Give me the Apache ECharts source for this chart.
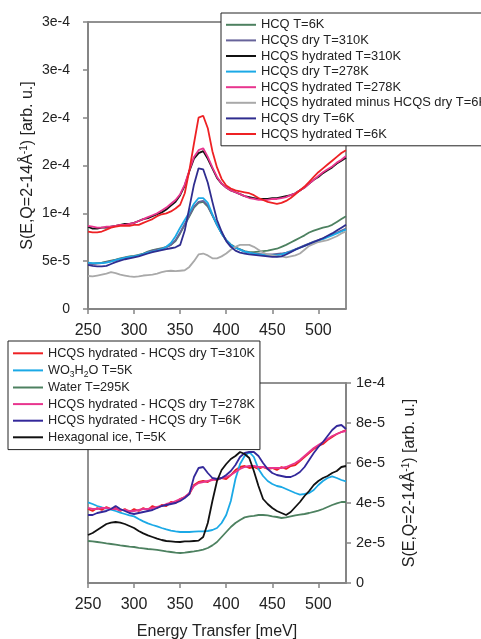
<!DOCTYPE html>
<html>
<head>
<meta charset="utf-8">
<script src="https://cdn.jsdelivr.net/npm/echarts@6/dist/echarts.min.js"></script>
<style>
  html, body { margin: 0; padding: 0; background: #ffffff; }
  #chart { width: 481px; height: 639px; }
</style>
</head>
<body>
<div id="chart"></div>
<script>
// Energy transfer grid [meV], shared by every curve
const energy = [
  250,255,260,265,270,275,280,285,290,295,
  300,305,310,315,320,325,330,335,340,345,
  350,355,360,365,370,375,380,385,390,395,
  400,405,410,415,420,425,430,435,440,445,
  450,455,460,465,470,475,480,485,490,495,
  500,505,510,515,520,525,530
];

// Upper panel: S(E) in units of 1e-5 arb. u.
const hcq6K = [
  4.8,4.75,4.8,4.85,4.95,5.05,5.15,5.3,5.4,5.5,
  5.55,5.65,5.8,6.0,6.15,6.25,6.35,6.5,6.7,7.1,
  7.9,8.8,9.7,10.6,11.1,11.2,10.7,9.8,8.8,7.9,
  7.2,6.75,6.45,6.25,6.05,5.95,5.95,6.0,6.05,6.1,
  6.2,6.3,6.5,6.7,6.95,7.2,7.45,7.7,8.0,8.2,
  8.35,8.5,8.6,8.8,9.1,9.4,9.7
];
const hcqsDry310K = [
  4.75,4.7,4.75,4.8,4.9,5.0,5.1,5.25,5.35,5.45,
  5.5,5.6,5.75,5.95,6.1,6.2,6.3,6.45,6.7,7.2,
  8.0,8.9,9.8,10.7,11.2,11.3,10.8,9.8,8.8,7.9,
  7.2,6.7,6.4,6.2,6.0,5.9,5.8,5.75,5.7,5.7,
  5.7,5.75,5.8,5.9,6.05,6.25,6.45,6.65,6.85,7.05,
  7.2,7.4,7.6,7.8,8.0,8.2,8.4
];
const hcqsHyd310K = [
  8.6,8.4,8.4,8.5,8.5,8.6,8.7,8.8,8.9,8.9,
  9.0,9.2,9.4,9.5,9.7,9.9,10.1,10.4,10.8,11.2,
  11.9,12.9,14.4,15.7,16.3,16.5,15.7,14.7,13.7,13.1,
  12.7,12.4,12.2,12.0,11.8,11.7,11.6,11.5,11.5,11.5,
  11.6,11.6,11.7,11.8,11.9,12.1,12.4,12.7,13.1,13.5,
  13.8,14.2,14.5,14.8,15.2,15.5,15.8
];
const hcqsDry278K = [
  4.85,4.8,4.8,4.8,4.85,4.95,5.1,5.25,5.35,5.45,
  5.5,5.6,5.75,5.9,6.0,6.1,6.25,6.5,6.9,7.6,
  8.5,9.3,10.1,11.0,11.6,11.6,11.1,9.9,8.8,7.9,
  7.2,6.7,6.4,6.2,6.0,5.9,5.8,5.7,5.65,5.6,
  5.6,5.6,5.7,5.85,6.0,6.2,6.4,6.6,6.8,7.0,
  7.15,7.3,7.5,7.7,7.9,8.1,8.3
];
const hcqsHyd278K = [
  8.7,8.6,8.5,8.5,8.6,8.6,8.7,8.8,8.8,8.9,
  9.0,9.2,9.4,9.6,9.8,10.0,10.3,10.6,11.0,11.4,
  12.0,13.0,14.5,15.9,16.6,16.8,15.9,14.8,13.8,13.1,
  12.7,12.4,12.2,12.0,11.8,11.6,11.5,11.4,11.4,11.4,
  11.5,11.5,11.6,11.7,11.9,12.1,12.4,12.7,13.1,13.5,
  13.9,14.3,14.6,14.9,15.3,15.6,16.0
];
const hydMinusDry6K = [
  3.45,3.4,3.5,3.6,3.7,3.85,3.75,3.6,3.5,3.4,
  3.35,3.4,3.5,3.55,3.6,3.7,3.85,3.95,4.0,3.95,
  4.0,4.05,4.4,5.0,5.7,5.8,5.6,5.3,5.3,5.5,
  5.8,6.2,6.5,6.7,6.7,6.7,6.5,6.2,5.9,5.7,
  5.6,5.5,5.5,5.4,5.5,5.6,5.8,6.2,6.6,6.8,
  7.0,7.1,7.2,7.4,7.6,7.9,8.1
];
const hcqsDry6K = [
  4.6,4.5,4.45,4.45,4.5,4.7,4.9,5.05,5.2,5.3,
  5.4,5.5,5.65,5.8,5.95,6.05,6.15,6.25,6.35,6.45,
  6.7,8.2,10.6,13.0,14.7,14.6,13.2,11.2,9.3,8.1,
  7.1,6.5,6.1,5.9,5.8,5.7,5.65,5.6,5.55,5.5,
  5.45,5.45,5.5,5.7,5.95,6.2,6.4,6.6,6.8,7.0,
  7.2,7.4,7.65,7.9,8.2,8.5,8.8
];
const hcqsHyd6K = [
  8.1,8.0,8.0,8.1,8.3,8.5,8.6,8.7,8.7,8.7,
  8.8,8.8,9.0,9.2,9.4,9.7,9.9,10.0,10.2,10.5,
  10.9,12.1,14.5,17.3,20.0,20.2,18.9,16.5,14.8,13.6,
  12.9,12.6,12.4,12.3,12.2,12.1,11.9,11.6,11.4,11.2,
  11.1,11.0,11.1,11.3,11.6,12.0,12.4,12.8,13.3,13.8,
  14.3,14.7,15.1,15.5,15.9,16.3,16.6
];

// Lower panel: S(E) in units of 1e-5 arb. u.
const diff310K = [
  3.7,3.6,3.75,3.65,3.8,3.7,3.75,3.6,3.7,3.55,
  3.7,3.6,3.75,3.65,3.85,3.75,3.9,3.85,4.05,4.0,
  4.2,4.3,4.45,4.9,5.05,5.1,5.05,5.2,5.15,5.25,
  5.2,5.4,5.65,5.8,5.85,5.75,5.8,5.7,5.8,5.7,
  5.75,5.65,5.8,5.7,5.85,5.9,6.1,6.3,6.5,6.7,
  6.85,6.95,7.15,7.3,7.45,7.55,7.65
];
const wo3h2o5K = [
  4.03,3.95,3.85,3.78,3.72,3.67,3.6,3.52,3.45,3.38,
  3.33,3.2,3.08,2.98,2.9,2.83,2.75,2.68,2.62,2.58,
  2.55,2.55,2.55,2.57,2.58,2.58,2.6,2.65,2.75,3.0,
  3.4,4.1,5.2,5.95,6.35,6.55,6.3,5.7,5.35,5.1,
  4.95,4.85,4.8,4.7,4.6,4.5,4.42,4.45,4.5,4.65,
  4.9,5.1,5.25,5.33,5.25,5.15,5.08
];
const water295K = [
  2.1,2.08,2.05,2.02,1.98,1.95,1.92,1.88,1.85,1.82,
  1.8,1.76,1.73,1.7,1.68,1.66,1.62,1.58,1.55,1.52,
  1.5,1.52,1.55,1.58,1.62,1.67,1.75,1.88,2.05,2.3,
  2.55,2.8,3.0,3.15,3.28,3.33,3.36,3.4,3.4,3.38,
  3.33,3.3,3.25,3.28,3.33,3.38,3.42,3.45,3.5,3.56,
  3.62,3.7,3.8,3.9,3.98,4.05,4.05
];
const diff278K = [
  3.75,3.7,3.7,3.75,3.75,3.7,3.7,3.65,3.65,3.6,
  3.6,3.65,3.7,3.7,3.75,3.8,3.85,3.95,4.0,4.1,
  4.2,4.3,4.5,4.85,5.0,5.05,5.1,5.15,5.2,5.25,
  5.3,5.4,5.55,5.7,5.8,5.85,5.85,5.8,5.8,5.75,
  5.75,5.75,5.75,5.8,5.9,6.0,6.15,6.35,6.55,6.75,
  6.9,7.05,7.2,7.35,7.45,7.55,7.6
];
const diff6K = [
  3.4,3.4,3.5,3.55,3.6,3.7,3.85,3.7,3.6,3.5,
  3.45,3.5,3.55,3.6,3.65,3.75,3.85,3.9,3.95,4.0,
  4.1,4.25,4.45,5.3,5.75,5.8,5.5,5.25,5.2,5.25,
  5.4,5.6,5.9,6.3,6.5,6.55,6.55,6.35,6.0,5.7,
  5.5,5.4,5.35,5.3,5.3,5.4,5.55,5.8,6.15,6.5,
  6.8,7.05,7.35,7.65,7.85,7.9,7.7
];
const hexIce5K = [
  2.4,2.5,2.65,2.8,2.95,3.02,3.05,3.02,2.95,2.85,
  2.75,2.6,2.48,2.38,2.3,2.22,2.15,2.1,2.08,2.06,
  2.05,2.08,2.08,2.1,2.12,2.3,3.0,4.1,5.1,5.65,
  5.95,6.2,6.35,6.55,6.45,6.25,5.6,4.85,4.2,3.95,
  3.75,3.6,3.5,3.4,3.55,3.8,4.05,4.35,4.6,4.9,
  5.1,5.25,5.35,5.5,5.6,5.8,5.85
];

// Tick labels as printed on the two intensity axes
const topTickLabels = ['0', '5e-5', '1e-4', '2e-4', '2e-4', '3e-4', '3e-4'];
const bottomTickLabels = ['0', '2e-5', '4e-5', '6e-5', '8e-5', '1e-4'];

const topCurves = [
  ['HCQ T=6K', hcq6K, '#4d8160'],
  ['HCQS dry T=310K', hcqsDry310K, '#67639a'],
  ['HCQS hydrated T=310K', hcqsHyd310K, '#111111'],
  ['HCQS dry T=278K', hcqsDry278K, '#1ba9e6'],
  ['HCQS hydrated T=278K', hcqsHyd278K, '#e8358e'],
  ['HCQS hydrated minus HCQS dry T=6K', hydMinusDry6K, '#a9a9a9'],
  ['HCQS dry T=6K', hcqsDry6K, '#2f2d8f'],
  ['HCQS hydrated T=6K', hcqsHyd6K, '#ee2124']
];
const bottomCurves = [
  ['HCQS hydrated - HCQS dry T=310K', diff310K, '#ee2124'],
  ['WO3H2O T=5K', wo3h2o5K, '#1ba9e6'],
  ['Water T=295K', water295K, '#4d8160'],
  ['HCQS hydrated - HCQS dry T=278K', diff278K, '#e8358e'],
  ['HCQS hydrated - HCQS dry T=6K', diff6K, '#33289a'],
  ['Hexagonal ice, T=5K', hexIce5K, '#111111']
];

const FONT = '"Liberation Sans", Arial, sans-serif';
const AXIS_GREY = '#858585';
const TEXT = '#222222';

function makeSeries(list, idx) {
  return list.map(([name, vals, color]) => ({
    name: name,
    type: 'line',
    xAxisIndex: idx,
    yAxisIndex: idx,
    data: energy.map((e, i) => [e, vals[i]]),
    showSymbol: false,
    color: color,
    lineStyle: { width: 1.8, color: color },
    emphasis: { disabled: true },
    animation: false
  }));
}

function xAxisFor(idx, extra) {
  return Object.assign({
    type: 'value',
    gridIndex: idx,
    min: 250,
    max: 530,
    interval: 50,
    nameMoveOverlap: false,
    axisLine: { show: true, lineStyle: { color: AXIS_GREY, width: 2 } },
    axisTick: { show: true, length: 5, lineStyle: { color: AXIS_GREY, width: 1.5 } },
    axisLabel: { fontSize: 16, fontFamily: FONT, color: TEXT, margin: 14, showMaxLabel: false },
    splitLine: { show: false }
  }, extra || {});
}

const yName = '{t|S(E,Q=2-14Å}{s|-1}{t|) [arb. u.]}';
const yNameRich = {
  t: { fontSize: 16, fontFamily: FONT, color: TEXT, lineHeight: 18 },
  s: { fontSize: 10, fontFamily: FONT, color: TEXT, lineHeight: 18, verticalAlign: 'top', padding: [0, 0, 6, 0] }
};

const legendBase = {
  orient: 'vertical',
  icon: 'rect',
  itemWidth: 30,
  itemHeight: 2,
  itemGap: 0,
  itemTextGap: 7,
  backgroundColor: '#ffffff',
  borderColor: '#222222',
  borderWidth: 1,
  borderRadius: 0,
  selectedMode: false,
  inactiveColor: '#ccc'
};

const chart = echarts.init(document.getElementById('chart'), null, { renderer: 'canvas' });

chart.setOption({
  backgroundColor: '#ffffff',
  animation: false,
  grid: [
    { left: 88, top: 22, width: 258, height: 287, show: true, borderColor: '#222', borderWidth: 1, containLabel: false, outerBoundsMode: 'none' },
    { left: 88, top: 383, width: 258, height: 200, show: true, borderColor: '#222', borderWidth: 1, containLabel: false, outerBoundsMode: 'none' }
  ],
  xAxis: [
    xAxisFor(0),
    xAxisFor(1, {
      name: 'Energy Transfer [meV]',
      nameLocation: 'middle',
      nameGap: 41,
      nameTextStyle: { fontSize: 16, fontFamily: FONT, color: TEXT }
    })
  ],
  yAxis: [
    {
      type: 'value',
      gridIndex: 0,
      position: 'left',
      min: 0,
      max: 30,
      interval: 5,
      nameMoveOverlap: false,
      axisLine: { show: true, lineStyle: { color: AXIS_GREY, width: 2 } },
      axisTick: { show: true, length: 5, lineStyle: { color: AXIS_GREY, width: 1.5 } },
      axisLabel: {
        fontSize: 14, fontFamily: FONT, color: TEXT, margin: 18,
        formatter: (v) => topTickLabels[Math.round(v / 5)]
      },
      splitLine: { show: false },
      name: yName,
      nameLocation: 'middle',
      nameGap: 51,
      nameRotate: 90,
      nameTextStyle: { rich: yNameRich }
    },
    {
      type: 'value',
      gridIndex: 1,
      position: 'right',
      min: 0,
      max: 10,
      interval: 2,
      nameMoveOverlap: false,
      axisLine: { show: true, lineStyle: { color: AXIS_GREY, width: 2 } },
      axisTick: { show: true, length: 5, lineStyle: { color: AXIS_GREY, width: 1.5 } },
      axisLabel: {
        fontSize: 14.5, fontFamily: FONT, color: TEXT, margin: 10,
        formatter: (v) => bottomTickLabels[Math.round(v / 2)]
      },
      splitLine: { show: false },
      name: yName,
      nameLocation: 'middle',
      nameGap: 55,
      nameRotate: 90,
      nameTextStyle: { rich: yNameRich }
    }
  ],
  legend: [
    Object.assign({}, legendBase, {
      left: 221,
      top: 13,
      padding: [4, 5, 4, 5],
      data: topCurves.map(c => c[0]),
      textStyle: { fontSize: 12.9, fontFamily: FONT, color: TEXT, lineHeight: 15.6 }
    }),
    Object.assign({}, legendBase, {
      left: 8,
      top: 341,
      padding: [4, 5, 4, 5],
      data: bottomCurves.map(c => c[0]),
      formatter: (name) => name === 'WO3H2O T=5K'
        ? '{n|WO}{b|3}{n|H}{b|2}{n|O T=5K}'
        : name,
      textStyle: {
        fontSize: 12.7, fontFamily: FONT, color: TEXT, lineHeight: 16.6,
        rich: {
          n: { fontSize: 12.7, fontFamily: FONT, color: TEXT, lineHeight: 17.6 },
          b: { fontSize: 8.5, fontFamily: FONT, color: TEXT, lineHeight: 17.6, verticalAlign: 'bottom', padding: [4, 0, 0, 0] }
        }
      }
    })
  ],
  series: makeSeries(topCurves, 0).concat(makeSeries(bottomCurves, 1))
});
</script>
</body>
</html>
